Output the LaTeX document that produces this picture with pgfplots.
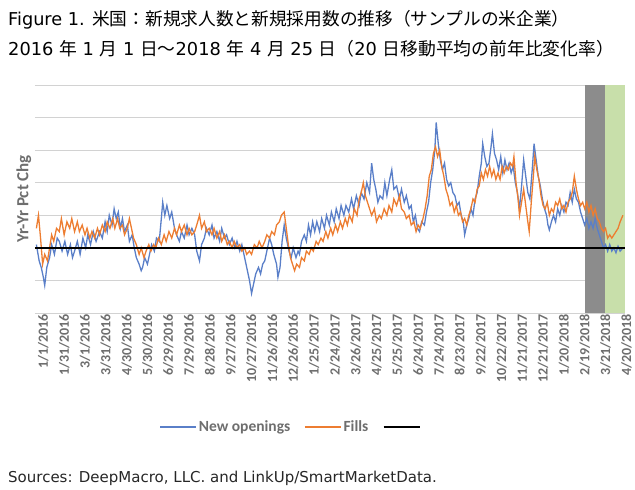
\documentclass[border=0pt]{standalone}
\usepackage{pgfplots}
\pgfplotsset{compat=1.18}
\usepackage{fontspec}
\newfontfamily\cjk{Noto Sans CJK JP}
\newfontfamily\carlito{Carlito}
\newfontfamily\dejavu{DejaVu Sans}
\definecolor{cblue}{HTML}{5A7FC8}
\definecolor{corange}{HTML}{ED7D31}
\definecolor{cshade}{HTML}{8C8C8C}
\definecolor{cgreen}{HTML}{C8DFAA}
\definecolor{ctext}{HTML}{6E6E6E}
\newcommand{\la}[1]{{\dejavu #1}}
\begin{document}
\begin{tikzpicture}[x=1pt,y=1pt]
\useasboundingbox (0pt,0pt) rectangle (635pt,490pt);
\node[anchor=west,inner sep=0pt] at (8pt,470pt) {\cjk\fontsize{17.7}{19}\selectfont \la{Figure 1. }米国：新規求人数と新規採用数の推移（サンプルの米企業）};
\node[anchor=west,inner sep=0pt] at (8pt,441pt) {\cjk\fontsize{17.8}{19}\selectfont \la{2016 }年\la{ 1 }月\la{ 1 }日～\la{2018 }年\la{ 4 }月\la{ 25 }日（\la{20 }日移動平均の前年比変化率）};
\node[anchor=west,inner sep=0pt,text=black!85] at (8pt,12pt) {\dejavu\fontsize{15}{16}\selectfont Sources: DeepMacro, LLC. and LinkUp/SmartMarketData.};
\begin{axis}[
  at={(35pt,177pt)}, anchor=south west,
  scale only axis, width=590pt, height=228pt,
  xmin=-2, xmax=848, ymin=-2, ymax=5,
  axis line style={draw=none},
  major tick length=0pt,
  ytick={-2,-1,0,1,2,3,4,5}, yticklabels={},
  ymajorgrids, grid style={gray!35, line width=0.8pt},
  xtick={0,30,...,840},
  xticklabels={1/1/2016,1/31/2016,3/1/2016,3/31/2016,4/30/2016,5/30/2016,6/29/2016,7/29/2016,8/28/2016,9/27/2016,10/27/2016,11/26/2016,12/26/2016,1/25/2017,2/24/2017,3/26/2017,4/25/2017,5/25/2017,6/24/2017,7/24/2017,8/23/2017,9/22/2017,10/22/2017,11/21/2017,12/21/2017,1/20/2018,2/19/2018,3/21/2018,4/20/2018},
  xticklabel style={rotate=90, anchor=east, font=\carlito\bfseries\fontsize{14}{15}\selectfont, text=ctext, inner sep=1pt, yshift=-7pt},
  ylabel={Yr-Yr Pct Chg},
  ylabel style={at={(axis description cs:-0.019,0.5)}, anchor=center, font=\carlito\bfseries\fontsize{17}{18}\selectfont, text=ctext},
  legend columns=3,
  legend style={draw=none, at={(axis description cs:0.436,-0.5)}, anchor=center, font=\carlito\bfseries\fontsize{15.5}{16}\selectfont, text=ctext, /tikz/every even column/.append style={column sep=12pt}},
  legend image code/.code={\draw[#1] (0pt,0pt) -- (36pt,0pt);},
]
\addplot[fill=cshade, draw=none, forget plot] coordinates {(790,-2) (790,5) (819,5) (819,-2)} -- cycle;
\addplot[fill=cgreen, draw=none, forget plot] coordinates {(819,-2) (819,5) (848,5) (848,-2)} -- cycle;
\addplot[cblue, line width=1.3pt] coordinates {
(0,0.1) (4,-0.4) (7,-0.6) (10,-0.9) (12,-1.15) (15,-0.6) (19,-0.3) (22,0.1) (26,-0.2) (30,0.3) (33,0.2) (37,-0.1) (41,0.2) (45,-0.2) (49,0.1) (52,-0.3) (55,-0.1) (59,0.2) (63,-0.2) (67,0.3) (71,0.0) (74,0.4) (78,0.1) (82,0.5) (86,0.2) (91,0.5) (95,0.3) (99,0.8) (102,0.5) (105,1.0) (109,0.7) (112,1.2) (115,0.9) (118,1.1) (121,0.6) (124,0.9) (127,0.5) (131,0.7) (134,0.2) (138,0.4) (141,0.0) (144,-0.3) (148,-0.5) (151,-0.7) (153,-0.6) (156,-0.3) (160,-0.5) (163,-0.2) (166,0.1) (170,-0.1) (173,0.3) (177,0.2) (180,0.9) (182,1.4) (185,1.0) (188,1.3) (192,0.9) (195,1.1) (199,0.6) (202,0.4) (206,0.2) (209,0.5) (213,0.3) (217,0.7) (220,0.4) (224,0.6) (228,0.4) (231,-0.1) (235,-0.4) (238,0.1) (242,0.3) (245,0.6) (249,0.4) (253,0.7) (256,0.3) (260,0.5) (264,0.2) (267,0.6) (271,0.3) (274,0.4) (278,0.1) (282,0.3) (286,0.0) (289,0.2) (293,-0.1) (296,0.1) (300,-0.3) (303,-0.6) (307,-1.0) (310,-1.4) (313,-1.1) (316,-0.8) (320,-0.6) (323,-0.8) (326,-0.5) (329,-0.4) (332,-0.1) (336,0.3) (339,0.1) (342,-0.2) (346,-0.5) (348,-0.9) (351,-0.6) (354,0.2) (357,0.7) (360,0.3) (364,-0.1) (367,-0.3) (370,0.0) (374,-0.3) (377,-0.1) (379,-0.2) (382,0.2) (386,0.4) (389,0.2) (392,0.7) (395,0.4) (398,0.8) (401,0.5) (404,0.8) (408,0.5) (411,0.9) (415,0.6) (418,1.0) (422,0.7) (425,1.1) (429,0.8) (432,1.2) (436,0.9) (439,1.3) (443,1.0) (446,1.3) (450,1.1) (454,1.5) (457,1.2) (461,1.6) (465,1.3) (468,1.7) (472,1.5) (476,2.0) (480,1.7) (483,2.6) (486,2.1) (489,1.8) (492,1.4) (495,1.6) (499,1.5) (502,2.0) (505,1.6) (509,2.1) (512,2.4) (515,1.8) (519,1.9) (523,1.5) (526,1.8) (530,1.4) (533,1.6) (537,1.2) (540,1.3) (543,0.8) (546,1.0) (549,0.6) (552,0.5) (555,0.8) (559,0.7) (562,1.1) (565,1.4) (568,2.0) (571,2.4) (574,3.0) (576,3.85) (579,3.2) (582,2.7) (585,2.4) (588,2.6) (591,2.1) (594,1.9) (597,2.0) (600,1.7) (603,1.6) (606,1.3) (609,1.4) (612,1.0) (615,0.8) (617,0.4) (620,0.7) (623,0.9) (626,1.2) (629,1.0) (632,1.5) (635,1.7) (638,2.2) (641,2.6) (643,3.2) (646,2.8) (649,2.5) (652,2.6) (655,3.1) (657,3.5) (660,2.9) (663,2.7) (666,2.4) (669,2.8) (672,2.3) (675,2.7) (678,2.4) (681,2.6) (684,2.3) (687,2.5) (690,2.0) (693,1.7) (696,1.2) (699,1.9) (702,2.7) (705,2.2) (708,1.7) (711,1.5) (714,2.3) (717,3.2) (720,2.7) (723,2.2) (726,1.9) (729,1.5) (732,1.2) (735,1.0) (737,0.7) (739,0.55) (742,0.8) (745,1.0) (748,0.8) (751,1.2) (754,1.0) (757,1.3) (760,1.1) (763,1.4) (766,1.3) (769,1.7) (772,1.4) (775,1.8) (778,1.5) (781,1.4) (784,1.1) (787,0.9) (790,0.7) (793,0.9) (796,0.6) (799,0.8) (802,0.6) (805,0.9) (808,0.6) (811,0.4) (814,0.2) (817,0.0) (820,0.1) (823,-0.1) (826,0.1) (829,-0.1) (832,0.0) (835,-0.15) (838,0.05) (841,-0.1) (845,0.0)
};
\addlegendentry{New openings}
\addplot[corange, line width=1.3pt] coordinates {
(0,0.6) (3,1.0) (6,0.3) (9,-0.5) (12,-0.2) (16,-0.4) (19,0.0) (22,0.4) (25,0.2) (29,0.6) (33,0.5) (36,0.9) (40,0.4) (44,0.8) (48,0.6) (51,0.9) (55,0.5) (59,0.8) (62,0.5) (66,0.7) (70,0.4) (73,0.6) (77,0.3) (80,0.5) (84,0.3) (88,0.6) (91,0.4) (95,0.7) (99,0.5) (102,0.8) (106,0.6) (110,0.9) (113,0.6) (117,0.9) (120,0.6) (124,0.7) (127,0.4) (131,0.6) (134,0.9) (137,0.6) (140,0.3) (144,0.1) (148,-0.2) (151,0.0) (155,-0.3) (158,-0.1) (162,0.1) (165,-0.1) (169,0.1) (172,0.0) (176,0.3) (180,0.1) (184,0.4) (187,0.2) (191,0.5) (195,0.3) (199,0.6) (202,0.4) (206,0.7) (209,0.5) (213,0.7) (217,0.4) (220,0.6) (224,0.4) (228,0.5) (231,0.7) (235,1.0) (238,0.6) (242,0.8) (245,0.5) (249,0.6) (253,0.4) (256,0.6) (260,0.3) (264,0.5) (267,0.2) (271,0.4) (275,0.1) (278,0.2) (282,0.0) (285,0.2) (289,0.0) (293,0.1) (296,-0.1) (300,0.0) (303,-0.2) (307,-0.1) (310,-0.2) (314,0.1) (318,0.0) (321,0.2) (325,0.0) (329,0.2) (332,0.4) (336,0.3) (339,0.5) (343,0.4) (346,0.7) (350,0.8) (353,1.0) (357,1.1) (360,0.6) (363,0.1) (366,-0.3) (369,-0.5) (372,-0.7) (375,-0.5) (379,-0.6) (382,-0.3) (386,-0.4) (389,-0.1) (393,-0.2) (396,0.0) (399,-0.1) (403,0.2) (406,0.1) (410,0.3) (413,0.2) (417,0.5) (420,0.3) (424,0.6) (427,0.4) (431,0.7) (434,0.5) (438,0.8) (441,0.6) (445,0.9) (448,0.7) (451,1.0) (455,0.8) (458,1.2) (462,1.0) (465,1.5) (468,1.7) (471,2.0) (474,1.6) (477,1.4) (480,1.2) (483,1.0) (487,1.2) (490,0.8) (494,1.0) (497,0.9) (501,1.2) (505,1.0) (508,1.3) (512,1.1) (515,1.5) (519,1.3) (523,1.6) (526,1.2) (530,1.1) (533,0.9) (537,1.0) (540,0.7) (544,0.8) (547,0.5) (550,0.7) (553,0.6) (557,0.9) (560,1.2) (563,1.6) (566,2.2) (569,2.4) (572,2.9) (575,3.1) (578,2.8) (581,3.0) (584,2.5) (587,2.2) (590,1.8) (593,1.6) (596,1.3) (599,1.4) (602,1.1) (605,1.3) (608,1.0) (611,1.1) (614,0.8) (617,0.9) (620,0.7) (623,1.0) (626,1.2) (629,1.5) (632,1.4) (635,1.8) (638,1.9) (641,2.3) (644,2.1) (647,2.4) (650,2.2) (653,2.5) (656,2.2) (659,2.4) (662,2.1) (665,2.3) (668,2.1) (671,2.5) (674,2.3) (677,2.5) (680,2.4) (683,2.6) (686,2.5) (688,2.8) (691,2.0) (694,1.5) (696,1.0) (699,1.4) (702,1.8) (705,1.3) (708,0.8) (710,0.5) (713,1.4) (716,2.2) (718,2.8) (721,2.4) (724,2.1) (727,1.6) (730,1.3) (733,1.2) (736,1.4) (739,1.0) (742,1.2) (745,1.1) (748,1.4) (751,1.3) (754,1.5) (757,1.2) (760,1.3) (763,1.1) (766,1.4) (769,1.5) (772,1.7) (775,2.2) (778,1.8) (781,1.5) (784,1.3) (787,1.4) (790,1.2) (793,1.4) (796,1.1) (799,1.3) (802,1.0) (805,1.2) (808,0.9) (811,0.8) (814,0.6) (817,0.5) (820,0.6) (823,0.3) (826,0.4) (829,0.3) (832,0.4) (835,0.5) (838,0.6) (841,0.8) (845,1.0)
};
\addlegendentry{Fills}
\addplot[black, line width=2.6pt] coordinates {(-2,0) (848,0)};
\addlegendentry{}
\end{axis}
\end{tikzpicture}
\end{document}
